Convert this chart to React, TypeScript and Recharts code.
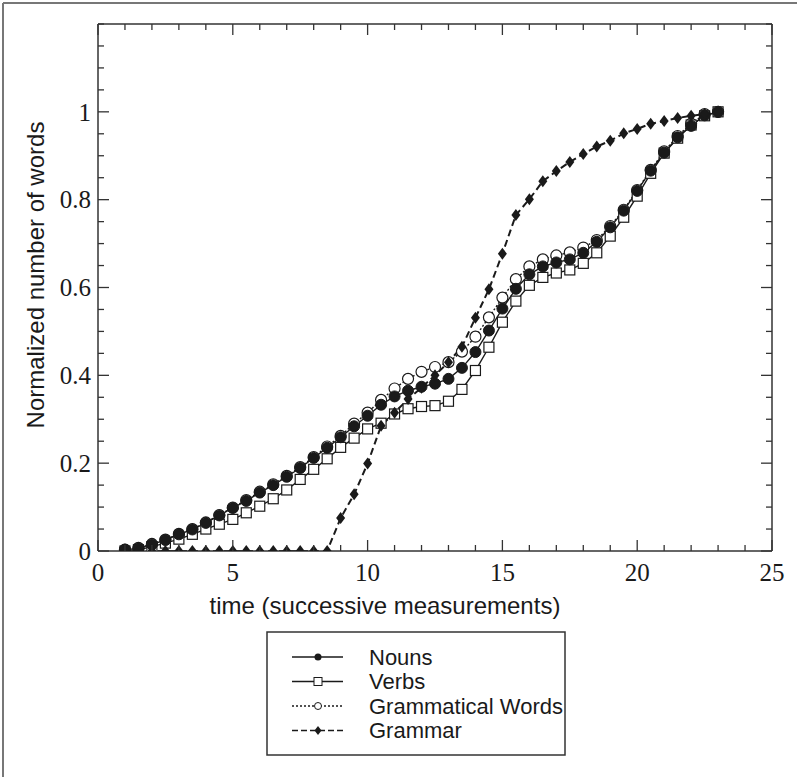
import { LineChart, Line, XAxis, YAxis } from 'recharts';

// measurement times (x), one point every half step
const times = [
  1, 1.5, 2, 2.5, 3, 3.5, 4, 4.5, 5, 5.5, 6, 6.5, 7, 7.5, 8, 8.5, 9, 9.5, 10, 10.5, 11, 11.5,
  12, 12.5, 13, 13.5, 14, 14.5, 15, 15.5, 16, 16.5, 17, 17.5, 18, 18.5, 19, 19.5, 20, 20.5,
  21, 21.5, 22, 22.5, 23,
];

const nouns = [
  0.003, 0.006, 0.015, 0.025, 0.038, 0.049, 0.064, 0.081, 0.098, 0.114, 0.133, 0.15, 0.169,
  0.189, 0.212, 0.235, 0.259, 0.284, 0.308, 0.333, 0.352, 0.365, 0.374, 0.381, 0.392, 0.417,
  0.453, 0.502, 0.552, 0.597, 0.63, 0.648, 0.657, 0.664, 0.679, 0.704, 0.737, 0.775, 0.82,
  0.866, 0.907, 0.942, 0.968, 0.992, 1.0,
];

const verbs = [
  0, 0.003, 0.01, 0.018, 0.027, 0.038, 0.05, 0.061, 0.072, 0.087, 0.102, 0.119, 0.139, 0.163,
  0.186, 0.21, 0.236, 0.257, 0.278, 0.291, 0.312, 0.324, 0.329, 0.331, 0.341, 0.368, 0.411,
  0.464, 0.521, 0.569, 0.605, 0.623, 0.633, 0.64, 0.655, 0.679, 0.717, 0.76, 0.808, 0.86,
  0.906, 0.94, 0.97, 0.991, 1.0,
];

const gramWords = [
  0.003, 0.007, 0.016, 0.026, 0.039, 0.05, 0.065, 0.082, 0.099, 0.116, 0.135, 0.152, 0.171,
  0.191, 0.214, 0.238, 0.262, 0.29, 0.315, 0.344, 0.37, 0.392, 0.408, 0.419, 0.43, 0.454,
  0.488, 0.532, 0.577, 0.619, 0.648, 0.664, 0.673, 0.68, 0.691, 0.708, 0.74, 0.777, 0.822,
  0.868, 0.91, 0.945, 0.973, 0.995, 1.0,
];

const grammar = [
  0, 0, 0, 0, 0, 0, 0, 0, 0, 0, 0, 0, 0, 0, 0, 0, 0.075, 0.129, 0.199, 0.285, 0.315, 0.346,
  0.372, 0.4, 0.43, 0.465, 0.531, 0.596, 0.677, 0.765, 0.801, 0.842, 0.865, 0.886, 0.904,
  0.921, 0.934, 0.951, 0.961, 0.973, 0.979, 0.986, 0.991, 0.995, 1.0,
];

const xTicks = [0, 1, 2, 3, 4, 5, 6, 7, 8, 9, 10, 11, 12, 13, 14, 15, 16, 17, 18, 19, 20, 21, 22, 23, 24, 25];
const xLabels = [0, 5, 10, 15, 20, 25];
const yTicks = [
  0, 0.05, 0.1, 0.15, 0.2, 0.25, 0.3, 0.35, 0.4, 0.45, 0.5, 0.55, 0.6, 0.65, 0.7, 0.75, 0.8,
  0.85, 0.9, 0.95, 1, 1.05, 1.1, 1.15, 1.2,
];
const yLabels = [0, 0.2, 0.4, 0.6, 0.8, 1];

const INK = '#1a1a1a';
const AXIS = '#333';
const SERIF = '"Liberation Serif", "Times New Roman", serif';
const SANS = '"Liberation Sans", Arial, sans-serif';

const data = times.map((t, i) => ({
  t,
  nouns: nouns[i],
  verbs: verbs[i],
  gramWords: gramWords[i],
  grammar: grammar[i],
}));

const isLabel = (list: number[], v: number) => list.some((l) => Math.abs(l - v) < 1e-6);

const BottomTick = ({ x, y, payload }: any) => {
  const major = isLabel(xLabels, payload.value);
  return (
    <g>
      <line x1={x} y1={y} x2={x} y2={y - (major ? 11 : 6)} stroke={AXIS} strokeWidth={1.3} />
      {major && (
        <text x={x} y={y + 30} textAnchor="middle" fontFamily={SERIF} fontSize={25} fill={INK}>
          {payload.value}
        </text>
      )}
    </g>
  );
};

const TopTick = ({ x, y, payload }: any) => {
  const major = isLabel(xLabels, payload.value);
  return <line x1={x} y1={y} x2={x} y2={y + (major ? 11 : 6)} stroke={AXIS} strokeWidth={1.3} />;
};

const LeftTick = ({ x, y, payload }: any) => {
  const major = isLabel(yLabels, payload.value);
  return (
    <g>
      <line x1={x} y1={y} x2={x + (major ? 11 : 6)} y2={y} stroke={AXIS} strokeWidth={1.3} />
      {major && (
        <text x={x - 7} y={y} dy="0.35em" textAnchor="end" fontFamily={SERIF} fontSize={25} fill={INK}>
          {payload.value}
        </text>
      )}
    </g>
  );
};

const RightTick = ({ x, y, payload }: any) => {
  const major = isLabel(yLabels, payload.value);
  return <line x1={x} y1={y} x2={x - (major ? 11 : 6)} y2={y} stroke={AXIS} strokeWidth={1.3} />;
};

// marker shapes
const FilledCircle = (p: any) => (
  <circle key={p.index} cx={p.cx} cy={p.cy} r={5.5} fill={INK} stroke={INK} strokeWidth={1} />
);
const OpenCircle = (p: any) => (
  <circle key={p.index} cx={p.cx} cy={p.cy} r={5.5} fill="#fff" stroke={INK} strokeWidth={1.2} />
);
const OpenSquare = (p: any) => (
  <rect key={p.index} x={p.cx - 5} y={p.cy - 5} width={10} height={10} fill="#fff" stroke={INK} strokeWidth={1.2} />
);
const Diamond = (p: any) => (
  <polygon
    key={p.index}
    points={`${p.cx},${p.cy - 6} ${p.cx + 4.5},${p.cy} ${p.cx},${p.cy + 6} ${p.cx - 4.5},${p.cy}`}
    fill={INK}
  />
);

const legendItems = [
  { name: 'Nouns', dash: undefined, marker: 'fcircle' },
  { name: 'Verbs', dash: undefined, marker: 'square' },
  { name: 'Grammatical Words', dash: '2 2', marker: 'ocircle' },
  { name: 'Grammar', dash: '6 3', marker: 'diamond' },
];

function LegendMarker({ kind, cx, cy }: { kind: string; cx: number; cy: number }) {
  if (kind === 'fcircle') return <circle cx={cx} cy={cy} r={3.5} fill={INK} />;
  if (kind === 'ocircle') return <circle cx={cx} cy={cy} r={3.5} fill="#fff" stroke={INK} strokeWidth={1} />;
  if (kind === 'square')
    return <rect x={cx - 4} y={cy - 4} width={8} height={8} fill="#fff" stroke={INK} strokeWidth={1} />;
  return <polygon points={`${cx},${cy - 4.5} ${cx + 3.5},${cy} ${cx},${cy + 4.5} ${cx - 3.5},${cy}`} fill={INK} />;
}

export default function App() {
  return (
    <div style={{ position: 'absolute', left: 0, top: 0, width: 797, height: 777, background: '#fff' }}>
      <div style={{ position: 'absolute', left: 0, top: 0 }}>
        <LineChart width={797} height={600} data={data} margin={{ top: 23, right: 24, bottom: 0, left: 0 }}>
          <XAxis
            xAxisId="bottom"
            dataKey="t"
            type="number"
            domain={[0, 25]}
            ticks={xTicks}
            interval={0}
            height={49}
            tickSize={0}
            tickMargin={0}
            tick={<BottomTick />}
            axisLine={{ stroke: AXIS, strokeWidth: 1.5 }}
            allowDataOverflow
          />
          <XAxis
            xAxisId="top"
            orientation="top"
            dataKey="t"
            type="number"
            domain={[0, 25]}
            ticks={xTicks}
            interval={0}
            height={1}
            tickSize={0}
            tickMargin={0}
            tick={<TopTick />}
            axisLine={{ stroke: AXIS, strokeWidth: 1.5 }}
            allowDataOverflow
          />
          <YAxis
            yAxisId="left"
            type="number"
            domain={[0, 1.2]}
            ticks={yTicks}
            interval={0}
            width={98}
            tickSize={0}
            tickMargin={0}
            tick={<LeftTick />}
            axisLine={{ stroke: AXIS, strokeWidth: 1.5 }}
            allowDataOverflow
          />
          <YAxis
            yAxisId="right"
            orientation="right"
            type="number"
            domain={[0, 1.2]}
            ticks={yTicks}
            interval={0}
            width={1}
            tickSize={0}
            tickMargin={0}
            tick={<RightTick />}
            axisLine={{ stroke: AXIS, strokeWidth: 1.5 }}
            allowDataOverflow
          />
          {/* invisible series that keeps the mirrored frame axes active */}
          <Line
            xAxisId="top"
            yAxisId="right"
            dataKey="nouns"
            stroke="none"
            dot={false}
            activeDot={false}
            legendType="none"
            isAnimationActive={false}
          />
          <Line
            xAxisId="bottom"
            yAxisId="left"
            dataKey="gramWords"
            stroke={INK}
            strokeWidth={1.4}
            strokeDasharray="2 2"
            dot={OpenCircle}
            activeDot={false}
            isAnimationActive={false}
          />
          <Line
            xAxisId="bottom"
            yAxisId="left"
            dataKey="verbs"
            stroke={INK}
            strokeWidth={1.4}
            dot={OpenSquare}
            activeDot={false}
            isAnimationActive={false}
          />
          <Line
            xAxisId="bottom"
            yAxisId="left"
            dataKey="nouns"
            stroke={INK}
            strokeWidth={1.4}
            dot={FilledCircle}
            activeDot={false}
            isAnimationActive={false}
          />
          <Line
            xAxisId="bottom"
            yAxisId="left"
            dataKey="grammar"
            stroke={INK}
            strokeWidth={2}
            strokeDasharray="7 4"
            dot={Diamond}
            activeDot={false}
            isAnimationActive={false}
          />
        </LineChart>
      </div>
      <svg
        width={797}
        height={777}
        style={{ position: 'absolute', left: 0, top: 0, pointerEvents: 'none' }}
      >
        <line x1={3} y1={3} x2={797} y2={3} stroke="#777" strokeWidth={2} />
        <line x1={3} y1={3} x2={3} y2={777} stroke="#777" strokeWidth={2} />
        <text x={385} y={606} dy="0.35em" textAnchor="middle" fontFamily={SANS} fontSize={24} fill={INK}>
          time (successive measurements)
        </text>
        <text
          x={36}
          y={275}
          dy="0.35em"
          textAnchor="middle"
          fontFamily={SANS}
          fontSize={24}
          fill={INK}
          transform="rotate(-90 36 275)"
        >
          Normalized number of words
        </text>
        <rect x={267} y={632} width={298} height={123} fill="#fff" stroke={AXIS} strokeWidth={1.5} />
        {legendItems.map((item, i) => {
          const cy = 657 + i * 24.5;
          return (
            <g key={item.name}>
              <line x1={292} y1={cy} x2={343} y2={cy} stroke={INK} strokeWidth={1.4} strokeDasharray={item.dash} />
              <LegendMarker kind={item.marker} cx={318} cy={cy} />
              <text x={369} y={cy} dy="0.35em" fontFamily={SANS} fontSize={22} fill={INK}>
                {item.name}
              </text>
            </g>
          );
        })}
      </svg>
    </div>
  );
}
